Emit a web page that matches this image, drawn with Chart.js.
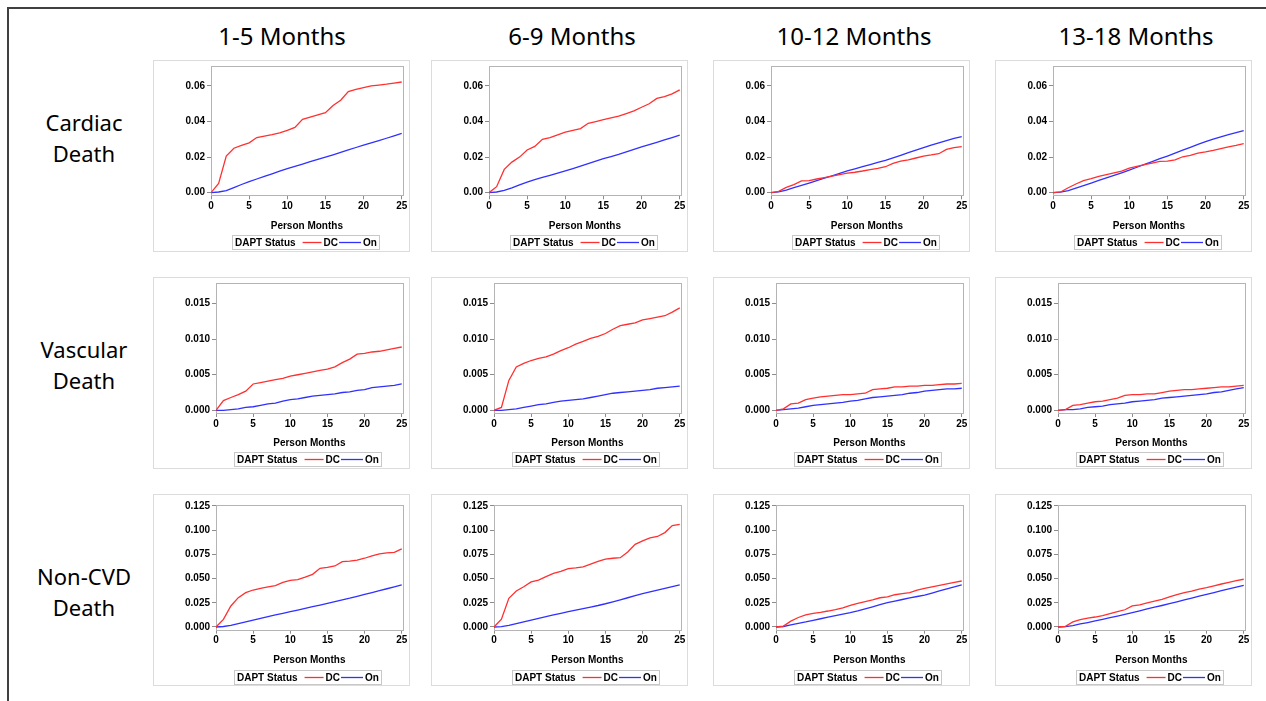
<!DOCTYPE html>
<html>
<head>
<meta charset="utf-8">
<script src="https://cdn.jsdelivr.net/npm/chart.js"></script>
<style>
  body { margin: 0; background: #fff; width: 1266px; height: 701px; position: relative; overflow: hidden; font-family: "Noto Sans", sans-serif; }
  .frame { position: absolute; left: 7px; top: 7px; right: -2px; bottom: -2px; border-top: 2px solid #404040; border-left: 2px solid #404040; }
  .col-title { position: absolute; top: 19px; width: 300px; text-align: center; font-size: 24px; color: #000; }
  .row-title { position: absolute; left: 14px; width: 140px; text-align: center; font-size: 22px; line-height: 31px; color: #000; }
  .panel { position: absolute; width: 257px; height: 192px; box-sizing: border-box; border: 1px solid #dcdcdc; }
  .panel canvas { position: absolute; left: 0; top: 0; }
</style>
</head>
<body>
<div class="frame"></div>
<div id="root"></div>
<script>
// ---- data ----
const months = [0,1,2,3,4,5,6,7,8,9,10,11,12,13,14,15,16,17,18,19,20,21,22,23,24,25];
const xTicks = [0, 5, 10, 15, 20, 25];
const periods = ['1-5 Months', '6-9 Months', '10-12 Months', '13-18 Months'];
const outcomes = [['Cardiac', 'Death'], ['Vascular', 'Death'], ['Non-CVD', 'Death']];
const seriesNames = ['DC', 'On'];
const legendTitle = 'DAPT Status';

const cardiacTicks = [0, 0.02, 0.04, 0.06];
const vascularTicks = [0, 0.005, 0.010, 0.015];
const noncvdTicks = [0, 0.025, 0.050, 0.075, 0.100, 0.125];

// cumulative incidence, one array per period column
const cardiacDC = [
  [0,0.0052,0.0206,0.025,0.0266,0.028,0.031,0.0318,0.0326,0.0336,0.035,0.0367,0.0412,0.0425,0.0438,0.045,0.049,0.052,0.0568,0.058,0.059,0.060,0.0605,0.061,0.0616,0.0622],
  [0,0.0034,0.0131,0.0172,0.020,0.024,0.026,0.030,0.031,0.0325,0.034,0.035,0.036,0.039,0.040,0.041,0.042,0.043,0.0445,0.046,0.048,0.050,0.053,0.054,0.0555,0.0578],
  [0,0.0008,0.0030,0.0045,0.0066,0.0068,0.0077,0.0085,0.0093,0.0102,0.011,0.0115,0.0122,0.013,0.0137,0.0146,0.0165,0.0177,0.0184,0.0195,0.0206,0.0212,0.0219,0.0243,0.0253,0.0259],
  [0,0.0004,0.0028,0.0049,0.0068,0.0079,0.0092,0.0102,0.0112,0.0121,0.0138,0.0148,0.0158,0.0166,0.0176,0.0177,0.0185,0.0202,0.021,0.0222,0.0229,0.0238,0.0248,0.0257,0.0266,0.0276]
];
const cardiacOn = [
  [0,0.0004,0.0012,0.0029,0.0046,0.0062,0.0077,0.0092,0.0106,0.0121,0.0135,0.0148,0.0161,0.0174,0.0187,0.0200,0.0213,0.0227,0.0240,0.0254,0.0267,0.0280,0.0293,0.0306,0.0320,0.0333],
  [0,0.0004,0.0013,0.0027,0.0044,0.006,0.0073,0.0086,0.0098,0.011,0.0122,0.0135,0.0149,0.0163,0.0177,0.0191,0.0203,0.0215,0.0229,0.0243,0.0257,0.027,0.0283,0.0297,0.031,0.0323],
  [0,0.0005,0.0015,0.0028,0.0041,0.0054,0.0068,0.0082,0.0095,0.0108,0.0122,0.0134,0.0146,0.0158,0.017,0.0182,0.0196,0.021,0.0225,0.0239,0.0253,0.0267,0.028,0.0293,0.0305,0.0315],
  [0,0.0003,0.0012,0.0026,0.004,0.0054,0.0069,0.0083,0.0098,0.0112,0.0127,0.0143,0.0159,0.0175,0.0191,0.0206,0.0222,0.0239,0.0255,0.0271,0.0287,0.0301,0.0314,0.0326,0.0338,0.0349]
];
const vascularDC = [
  [0,0.00136,0.0018,0.0022,0.0027,0.0037,0.0039,0.0041,0.0043,0.0045,0.0048,0.005,0.0052,0.0054,0.0056,0.0058,0.0061,0.0067,0.0072,0.0079,0.008,0.0082,0.0083,0.0085,0.0087,0.0089],
  [0,0.0004,0.0042,0.0061,0.0066,0.0070,0.0073,0.0075,0.0079,0.0084,0.0088,0.0093,0.0097,0.0101,0.0104,0.0108,0.0114,0.0119,0.0121,0.0123,0.0127,0.0129,0.0131,0.0133,0.0138,0.0144],
  [0,0.0002,0.0009,0.001,0.0015,0.0017,0.0019,0.002,0.0021,0.0022,0.0022,0.0023,0.0024,0.0029,0.003,0.0031,0.0033,0.0033,0.0034,0.0034,0.0035,0.0035,0.0036,0.0037,0.0037,0.0038],
  [0,0.0001,0.0007,0.0008,0.001,0.0012,0.0013,0.0015,0.0017,0.0021,0.0022,0.0022,0.0023,0.0023,0.0025,0.0027,0.0028,0.0029,0.0029,0.003,0.0031,0.0032,0.0033,0.0033,0.0034,0.0035]
];
const vascularOn = [
  [0,0,0.0001,0.0002,0.0004,0.0005,0.0007,0.0009,0.001,0.0013,0.0015,0.0016,0.0018,0.002,0.0021,0.0022,0.0023,0.0025,0.0026,0.0028,0.0029,0.0032,0.0033,0.0034,0.0035,0.0037],
  [0,0,0.0001,0.0002,0.0004,0.0006,0.0008,0.0009,0.0011,0.0013,0.0014,0.0015,0.0016,0.0018,0.002,0.0022,0.0024,0.0025,0.0026,0.0027,0.0028,0.0029,0.0031,0.0032,0.0033,0.0034],
  [0,0.0001,0.0002,0.0003,0.0005,0.0007,0.0008,0.0009,0.001,0.0011,0.0013,0.0014,0.0016,0.0018,0.0019,0.002,0.0021,0.0022,0.0024,0.0025,0.0027,0.0028,0.0029,0.003,0.003,0.0031],
  [0,0.0001,0.0001,0.0002,0.0004,0.0005,0.0006,0.0008,0.0009,0.001,0.0012,0.0013,0.0014,0.0015,0.0017,0.0018,0.0019,0.002,0.0021,0.0022,0.0023,0.0025,0.0026,0.0028,0.003,0.0032]
];
const noncvdDC = [
  [0,0.0079,0.0217,0.0303,0.0355,0.0382,0.040,0.0415,0.0427,0.046,0.0482,0.049,0.0515,0.0544,0.0606,0.0615,0.063,0.0675,0.068,0.069,0.071,0.0735,0.0755,0.0765,0.077,0.0806],
  [0,0.008,0.0296,0.0372,0.0415,0.0465,0.0485,0.052,0.0554,0.0575,0.0603,0.061,0.062,0.065,0.0678,0.070,0.071,0.0716,0.0775,0.0854,0.089,0.092,0.0935,0.0975,0.1047,0.106],
  [0,0.001,0.006,0.0098,0.0125,0.0141,0.0152,0.0165,0.018,0.0198,0.0224,0.0245,0.0262,0.028,0.0302,0.031,0.0333,0.0345,0.0355,0.038,0.040,0.0415,0.043,0.0445,0.046,0.0475],
  [0,0.0007,0.0052,0.0075,0.0092,0.0103,0.0118,0.0138,0.0158,0.0178,0.0217,0.0228,0.0248,0.0268,0.0285,0.031,0.0335,0.0355,0.037,0.0392,0.0407,0.0425,0.0444,0.0462,0.048,0.0493]
];
const noncvdOn = [
  [0,0.0005,0.0017,0.0035,0.0054,0.0072,0.009,0.0108,0.0125,0.0141,0.0158,0.0175,0.0192,0.021,0.0227,0.0244,0.0261,0.0279,0.0297,0.0317,0.0337,0.0356,0.0375,0.0395,0.0415,0.0434],
  [0,0.0004,0.0017,0.0035,0.0054,0.0072,0.009,0.0107,0.0124,0.0141,0.0158,0.0174,0.019,0.0206,0.0222,0.024,0.026,0.0281,0.0302,0.0323,0.0344,0.0362,0.038,0.0398,0.0416,0.0434],
  [0,0.0005,0.0022,0.0038,0.0052,0.0069,0.0085,0.0101,0.0117,0.0133,0.0148,0.0167,0.0188,0.0209,0.023,0.0251,0.0268,0.0284,0.03,0.0315,0.033,0.0351,0.0372,0.0393,0.0414,0.0434],
  [0,0.0003,0.0015,0.0031,0.0046,0.0062,0.0079,0.0096,0.0113,0.013,0.0148,0.0167,0.0186,0.0204,0.0222,0.0241,0.026,0.028,0.0299,0.0318,0.0337,0.0356,0.0375,0.0393,0.0411,0.043]
];

// ---- layout ----
const colLeft = [153, 431, 713, 995];
const titleCenter = [282, 572, 854, 1136];
const rowTop = [60, 277, 494];
const PW = 257, PH = 192;
const AXIS_BOTTOM = 172.3;   // bottom edge of x axis box inside panel

const rows = [
  { dc: cardiacDC,  on: cardiacOn,  ticks: cardiacTicks,  dec: 2, min: -0.00146, max: 0.0712, left: 57, top: 5,  bottom: 134.3, legendY: 174, labelY: 123 },
  { dc: vascularDC, on: vascularOn, ticks: vascularTicks, dec: 3, min: -0.00038, max: 0.0179, left: 62, top: 5,  bottom: 135,   legendY: 174, labelY: 350 },
  { dc: noncvdDC,   on: noncvdOn,   ticks: noncvdTicks,   dec: 3, min: -0.0028,  max: 0.126,  left: 62, top: 10, bottom: 134.7, legendY: 175, labelY: 577 }
];
const PLOT_RIGHT = 248.7;
const RED = '#ff3030', BLUE = '#3030ff';
const tickFont = { family: '"Liberation Sans", Arial, sans-serif', size: 10, weight: 'bold' };

Chart.defaults.font.family = tickFont.family;
Chart.defaults.color = '#000';
Chart.defaults.animation = false;

const framePlugin = {
  id: 'frame',
  beforeDatasetsDraw(chart) {
    const a = chart.chartArea, ctx = chart.ctx;
    ctx.save();
    ctx.strokeStyle = '#b4b4b4';
    ctx.lineWidth = 1;
    ctx.strokeRect(Math.round(a.left) + 0.5, Math.round(a.top) + 0.5, Math.round(a.right - a.left), Math.round(a.bottom - a.top));
    ctx.restore();
  }
};

// SAS-style inline legend: "DAPT Status —— DC —— On" in a thin box
const inlineLegend = {
  id: 'inlineLegend',
  afterDraw(chart, args, opts) {
    const ctx = chart.ctx, a = chart.chartArea;
    const w = 148, h = 15;
    const x = Math.round((a.left + a.right) / 2 - w / 2 - 1), y = opts.y;
    ctx.save();
    ctx.strokeStyle = '#c8c8c8';
    ctx.lineWidth = 1;
    ctx.strokeRect(x + 0.5, y + 0.5, w - 1, h - 1);
    ctx.font = 'bold 10px "Liberation Sans", Arial, sans-serif';
    ctx.fillStyle = '#000';
    ctx.textBaseline = 'middle';
    const cy = y + h / 2 + 0.5;
    let cx = x + 3;
    ctx.fillText(legendTitle, cx, cy);
    cx += ctx.measureText(legendTitle).width + 7;
    chart.data.datasets.forEach((ds, i) => {
      const sw = i === 0 ? 19 : 22;
      ctx.strokeStyle = ds.borderColor;
      ctx.lineWidth = 1.3;
      ctx.beginPath();
      ctx.moveTo(cx, cy - 0.5);
      ctx.lineTo(cx + sw, cy - 0.5);
      ctx.stroke();
      cx += sw + 2;
      ctx.fillText(ds.label, cx, cy);
      cx += ctx.measureText(ds.label).width + 1;
    });
    ctx.restore();
  }
};

const root = document.getElementById('root');

periods.forEach((p, c) => {
  const t = document.createElement('div');
  t.className = 'col-title';
  t.style.left = (titleCenter[c] - 150) + 'px';
  t.textContent = p;
  root.appendChild(t);
});

outcomes.forEach((o, r) => {
  const t = document.createElement('div');
  t.className = 'row-title';
  t.style.top = (rows[r].labelY - 16) + 'px';
  t.innerHTML = o[0] + '<br>' + o[1];
  root.appendChild(t);
});

rows.forEach((row, r) => {
  periods.forEach((p, c) => {
    const panel = document.createElement('div');
    panel.className = 'panel';
    panel.style.left = colLeft[c] + 'px';
    panel.style.top = rowTop[r] + 'px';
    const cv = document.createElement('canvas');
    cv.width = PW - 2; cv.height = PH - 2;
    cv.style.width = (PW - 2) + 'px'; cv.style.height = (PH - 2) + 'px';
    panel.appendChild(cv);
    root.appendChild(panel);

    const mk = (vals) => vals.map((v, i) => ({ x: months[i], y: v }));
    new Chart(cv, {
      type: 'line',
      data: {
        datasets: [
          { label: seriesNames[0], data: mk(row.dc[c]), borderColor: RED, borderWidth: 1.3, pointRadius: 0, tension: 0 },
          { label: seriesNames[1], data: mk(row.on[c]), borderColor: BLUE, borderWidth: 1.3, pointRadius: 0, tension: 0 }
        ]
      },
      options: {
        responsive: false,
        events: [],
        layout: { padding: { left: 0, top: row.top, right: (PW - 2) - PLOT_RIGHT, bottom: (PH - 2) - AXIS_BOTTOM } },
        plugins: { legend: { display: false }, tooltip: { enabled: false }, inlineLegend: { y: row.legendY } },
        scales: {
          x: {
            type: 'linear', min: 0, max: 25.13,
            afterBuildTicks: s => { s.ticks = xTicks.map(v => ({ value: v })); },
            afterFit: s => { s.height = AXIS_BOTTOM - row.bottom; s.paddingLeft = 0; s.paddingRight = 0; },
            ticks: { font: tickFont, color: '#000', padding: 1, maxRotation: 0, autoSkip: false },
            grid: { drawOnChartArea: false, tickLength: 4, color: '#8c8c8c' },
            border: { display: false },
            title: { display: true, text: 'Person Months', font: tickFont, color: '#000', padding: { top: 0, bottom: 1 } }
          },
          y: {
            type: 'linear', min: row.min, max: row.max,
            afterBuildTicks: s => { s.ticks = row.ticks.map(v => ({ value: v })); },
            afterFit: s => { s.width = row.left; s.paddingTop = 0; s.paddingBottom = 0; },
            ticks: { font: tickFont, color: '#000', padding: 2, callback: v => v.toFixed(row.dec) },
            grid: { drawOnChartArea: false, tickLength: 4, color: '#8c8c8c' },
            border: { display: false }
          }
        }
      },
      plugins: [framePlugin, inlineLegend]
    });
  });
});
</script>
</body>
</html>
